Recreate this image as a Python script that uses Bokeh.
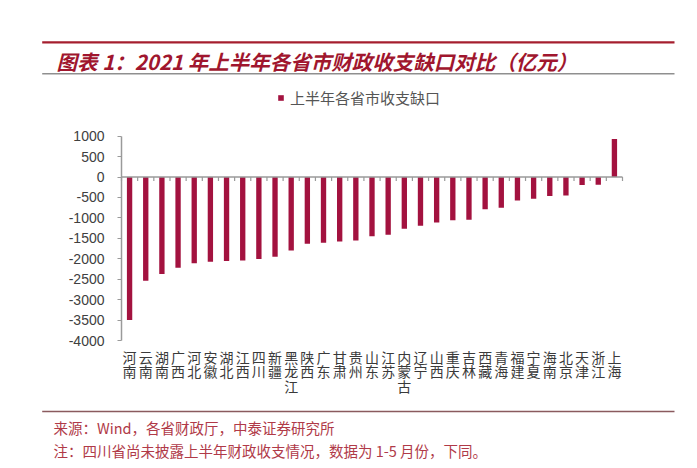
from bokeh.plotting import figure
from bokeh.models import (Range1d, FixedTicker, LinearAxis, Legend, LegendItem,
                          Label, BoxAnnotation)
from bokeh.embed import file_html
from bokeh.resources import INLINE
import numpy as np

# ---- data ----
categories = ["河南", "云南", "湖南", "广西", "河北", "安徽", "湖北", "江西", "四川", "新疆",
              "黑龙江", "陕西", "广东", "甘肃", "贵州", "山东", "江苏", "内蒙古", "辽宁", "山西",
              "重庆", "吉林", "西藏", "青海", "福建", "宁夏", "海南", "北京", "天津", "浙江", "上海"]
gap_values = [-3500, -2540, -2370, -2220, -2110, -2070, -2055, -2040, -2005, -1950,
              -1795, -1630, -1605, -1575, -1550, -1450, -1410, -1265, -1190, -1110,
              -1060, -1045, -785, -750, -575, -530, -465, -450, -195, -190, 930]
y_ticks = [-4000, -3500, -3000, -2500, -2000, -1500, -1000, -500, 0, 500, 1000]
series_name = "上半年各省市收支缺口"
title_text = "图表 1：2021 年上半年各省市财政收支缺口对比（亿元）"
source_text = "来源：Wind，各省财政厅，中泰证券研究所"
note_text = "注：四川省尚未披露上半年财政收支情况，数据为 1-5 月份，下同。"

BAR = "#A3123F"
DARK_RED = "#A0162E"
AXIS_GRAY = "#9a9a9a"
CJK = "Noto Sans CJK SC"

# ---- layout (canvas pixels) ----
W, H = 697, 468
n = len(categories)
y_lo, y_hi = min(y_ticks), max(y_ticks)
PLOT_L, PLOT_R = 121, 622          # category axis extent
PLOT_T, PLOT_B = 135.7, 340        # value axis extent
TICK_PX = 4
sx = (PLOT_R - PLOT_L) / n                 # px per category
sy = (PLOT_B - PLOT_T) / (y_hi - y_lo)     # px per value unit
x_range = Range1d(-PLOT_L / sx, (W - PLOT_L) / sx)
y_range = Range1d(y_lo - (H - PLOT_B) / sy, y_hi + PLOT_T / sy)

centers = (np.arange(n) + 0.5).tolist()
bounds = list(range(n + 1))

p = figure(width=W, height=H, output_backend="svg", toolbar_location=None,
           x_range=x_range, y_range=y_range, min_border=0,
           min_border_left=0, min_border_right=0, min_border_top=0, min_border_bottom=0,
           x_axis_type=None, y_axis_type=None)
p.outline_line_color = None
p.background_fill_color = "white"
p.border_fill_color = "white"
p.xgrid.visible = False
p.ygrid.visible = False

bars = p.vbar(x=centers, top=gap_values, bottom=0, width=0.33,
              fill_color=BAR, line_color=None)

# zero line with small ticks between categories
p.segment(x0=[0], x1=[n], y0=[0], y1=[0], line_color=AXIS_GRAY, line_width=1.5)
p.segment(x0=bounds, x1=bounds, y0=[0] * len(bounds), y1=[-TICK_PX / sy] * len(bounds),
          line_color=AXIS_GRAY, line_width=1.2)

# category labels axis, at the bottom of the value range
xaxis = LinearAxis(ticker=FixedTicker(ticks=centers), fixed_location=y_lo,
                   major_label_overrides={c: "\n".join(name) for c, name in zip(centers, categories)},
                   axis_line_color=None, major_tick_line_color=None, minor_tick_line_color=None,
                   major_label_standoff=0, major_label_text_font=CJK,
                   major_label_text_font_size="14px", major_label_text_color="#3a3a3a",
                   major_label_text_line_height=0.74)
p.add_layout(xaxis, "below")

# value axis
yaxis = LinearAxis(ticker=FixedTicker(ticks=y_ticks), fixed_location=0, bounds=(y_lo, y_hi),
                   major_label_overrides={v: str(v) for v in y_ticks},
                   axis_line_color=AXIS_GRAY, axis_line_width=1.5,
                   major_tick_line_color=AXIS_GRAY, major_tick_out=TICK_PX, major_tick_in=0,
                   minor_tick_line_color=None, major_label_standoff=13,
                   major_label_text_font="Liberation Sans", major_label_text_font_size="14px",
                   major_label_text_color="#404040")
p.add_layout(yaxis, "left")

legend = Legend(items=[LegendItem(label=series_name, renderers=[bars])],
                location=(277, 360), padding=0, margin=0, border_line_color=None,
                background_fill_alpha=0, glyph_width=7, glyph_height=7,
                label_height=14, label_standoff=6, label_text_font=CJK,
                label_text_font_size="15px", label_text_color="#555555")
p.add_layout(legend, "center")

# header & footer rules (screen px, y measured from top then flipped)
def hrule(y_top, thickness, color):
    return BoxAnnotation(left=41.7, right=674, top=H - y_top, bottom=H - y_top - thickness,
                         left_units="screen", right_units="screen",
                         top_units="screen", bottom_units="screen",
                         fill_color=color, fill_alpha=1, line_color=None)

p.add_layout(hrule(40.7, 2.2, "#A51E2E"))
p.add_layout(hrule(72.5, 1.5, "#8f8f8f"))
p.add_layout(hrule(410.3, 1.5, "#8a5a5e"))

p.add_layout(Label(x=56, y=H - 60, x_units="screen", y_units="screen", text=title_text,
                   text_font=CJK, text_font_size="20.5px", text_font_style="bold italic",
                   text_color=DARK_RED, text_baseline="middle"))
p.add_layout(Label(x=53, y=H - 426.7, x_units="screen", y_units="screen", text=source_text,
                   text_font=CJK, text_font_size="14.5px", text_color="#B03A48",
                   text_baseline="middle"))
p.add_layout(Label(x=53, y=H - 450, x_units="screen", y_units="screen", text=note_text,
                   text_font=CJK, text_font_size="14.5px", text_color="#B03A48",
                   text_baseline="middle"))

open("out.html", "w").write(file_html(p, INLINE))
